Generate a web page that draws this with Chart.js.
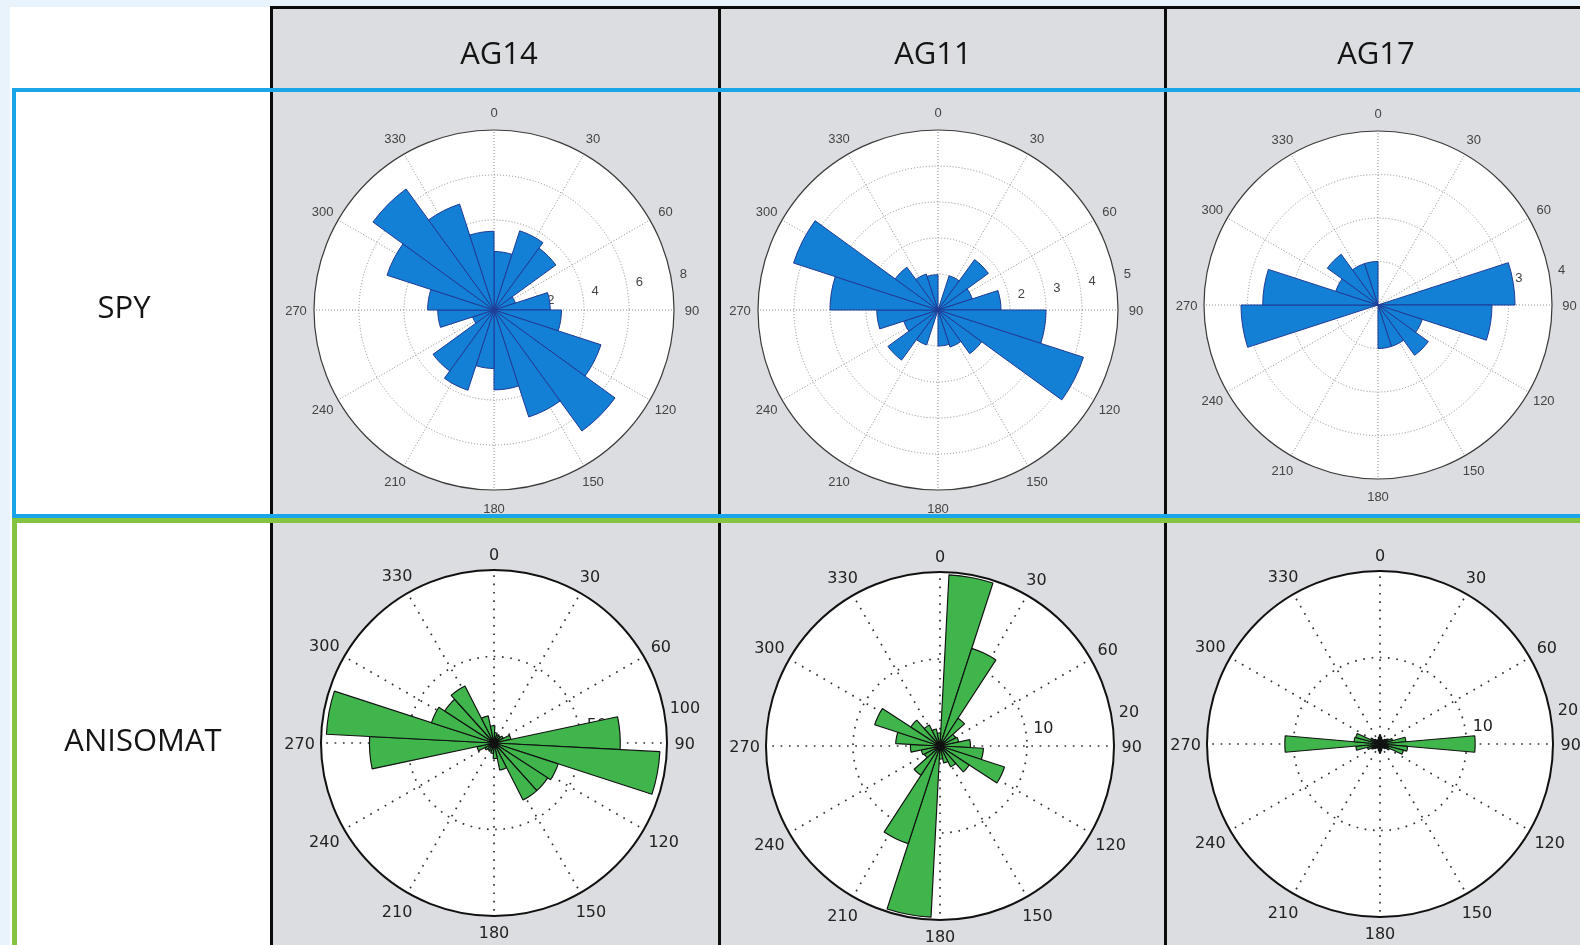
<!DOCTYPE html>
<html>
<head>
<meta charset="utf-8">
<script src="https://cdn.jsdelivr.net/npm/chart.js@4.4.0/dist/chart.umd.min.js"></script>
<style>
html,body{margin:0;padding:0;width:1580px;height:945px;overflow:hidden;background:#e8f3fb;}
#page{position:relative;width:1580px;height:945px;overflow:hidden;}
.abs{position:absolute;box-sizing:border-box;}
.txt{position:absolute;font-family:"Open Sans",sans-serif;font-size:31px;color:#141414;transform:translate(-50%,-50%);white-space:nowrap;line-height:1;}
canvas{position:absolute;}
</style>
</head>
<body>
<div id="page">
  <div class="abs" style="left:10px;top:7px;width:1570px;height:938px;background:#ffffff"></div>
  <div class="abs" style="left:271px;top:8px;width:1309px;height:937px;background:#dcdde1"></div>
  <div id="charts"></div>
  <div class="abs" style="left:270px;top:6px;width:1310px;height:3px;background:#0c0c0c"></div>
  <div class="abs" style="left:270px;top:6px;width:3px;height:939px;background:#0c0c0c"></div>
  <div class="abs" style="left:718px;top:6px;width:3px;height:939px;background:#0c0c0c"></div>
  <div class="abs" style="left:1164px;top:6px;width:3px;height:939px;background:#0c0c0c"></div>
  <div class="abs" style="left:12px;top:518px;width:1600px;height:500px;border:5px solid #84c441"></div>
  <div class="abs" style="left:12px;top:88px;width:1600px;height:430px;border:4px solid #1aa5e8"></div>
  <div id="labels"></div>
</div>
<script>
// ---------- table text ----------
const columns = ['AG14', 'AG11', 'AG17'];
const rows = ['SPY', 'ANISOMAT'];

// ---------- angular tick labels (degrees, compass: 0 at top, clockwise) ----------
const angleTicks = [0, 30, 60, 90, 120, 150, 180, 210, 240, 270, 300, 330];

// ---------- SPY rose data: 20 bins of 18 deg starting at 0 deg ----------
const spyStart = 0;
const spyAG14 = [2.6, 3.7, 3.4, 1.0, 2.5, 3.0, 5.0, 6.65, 5.0, 3.55, 2.6, 3.75, 3.35, 1.0, 2.5, 2.95, 5.0, 6.65, 4.95, 3.5];
const spyAG11 = [0, 1.0, 1.73, 1.0, 1.75, 3.0, 4.25, 1.5, 1.08, 1.0, 0, 1.02, 1.72, 1.0, 1.7, 3.0, 4.22, 1.47, 1.05, 0.98];
const spyAG17 = [0, 0, 0, 0, 3.15, 2.62, 1.07, 1.43, 1.0, 1.0, 0, 0, 0, 0, 3.15, 2.65, 1.02, 1.44, 1.0, 1.0];
const spyAG14Rings = [2, 4, 6, 8];
const spyAG14RingLabels = ['2', '4', '6', '8'];
const spyAG11Rings = [1, 2, 3, 4, 5];
const spyAG11RingLabels = ['1', '2', '3', '4', '5'];
const spyAG17Rings = [1, 2, 3, 4];
const spyAG17RingLabels = ['1', '2', '3', '4'];

// ---------- ANISOMAT rose data ----------
// AG14 and AG11: 24 bins of 15 deg starting at 3 deg
const aniStart = 3;
const aniAG14 = [6, 5, 5, 6, 10, 73, 96, 39, 37, 37, 16, 9, 6, 5, 5, 6, 10, 72, 97, 38, 34, 37, 16, 10];
const aniAG11 = [19.7, 11.8, 3.8, 2.0, 2.2, 3.5, 5.0, 7.8, 4.0, 2.7, 2.0, 1.5, 19.7, 11.8, 4.0, 2.0, 2.2, 3.4, 5.1, 7.9, 4.0, 2.7, 2.0, 1.5];
// AG17: 36 bins of 10 deg starting at 5 deg
const aniAG17Start = 5;
const aniAG17 = [0.8, 0.6, 0.5, 0.6, 0.8, 1.0, 1.5, 3.0, 11.0, 3.2, 2.8, 1.2, 0.8, 0.6, 0.5, 0.6, 0.8, 1.0,
                 0.8, 0.6, 0.5, 0.6, 0.8, 1.0, 1.5, 2.8, 11.0, 3.0, 2.9, 1.2, 0.8, 0.6, 0.5, 0.6, 0.8, 1.0];
const aniAG14Rings = [50, 100];
const aniAG14RingLabels = ['50', '100'];
const aniAG11Rings = [10, 20];
const aniAG11RingLabels = ['10', '20'];
const aniAG17Rings = [10, 20];
const aniAG17RingLabels = ['10', '20'];

// ---------- styles ----------
const spyLook = {
  fill: '#1380d6', edge: '#1f3b95', edgeW: 1.0,
  gridColor: '#8c8c8c', gridW: 1, gridDash: [1, 2],
  rimColor: '#3a3a3a', rimW: 1.2,
  font: '13px "Liberation Sans", Arial, sans-serif', fs: 13, textColor: '#444444',
  matlab: true, rAngle: 79, rOff: 13
};
const aniLook = {
  fill: '#3fb54b', edge: '#111111', edgeW: 1.15,
  gridColor: '#333333', gridW: 1.7, gridDash: [1.7, 6.6],
  rimColor: '#111111', rimW: 2,
  font: '16px "DejaVu Sans", sans-serif', fs: 16, textColor: '#222222',
  matlab: false, rAngle: 79.5, rOff: 18
};

// ---------- placement of each rose (page pixels) ----------
const PAD = 240;
const roses = [
  { cx: 494, cy: 310, R: 180, values: spyAG14, start: spyStart, rings: spyAG14Rings, ringLabels: spyAG14RingLabels, look: spyLook },
  { cx: 938, cy: 310, R: 180, values: spyAG11, start: spyStart, rings: spyAG11Rings, ringLabels: spyAG11RingLabels, look: spyLook },
  { cx: 1378, cy: 305, R: 174, values: spyAG17, start: spyStart, rings: spyAG17Rings, ringLabels: spyAG17RingLabels, look: spyLook },
  { cx: 494, cy: 743, R: 173, values: aniAG14, start: aniStart, rings: aniAG14Rings, ringLabels: aniAG14RingLabels, look: aniLook },
  { cx: 940, cy: 746, R: 174, values: aniAG11, start: aniStart, rings: aniAG11Rings, ringLabels: aniAG11RingLabels, look: aniLook },
  { cx: 1380, cy: 744, R: 173, values: aniAG17, start: aniAG17Start, rings: aniAG17Rings, ringLabels: aniAG17RingLabels, look: aniLook }
];

// ---------- text labels ----------
const labelBox = document.getElementById('labels');
const headerPos = [[499, 52], [933, 52], [1376, 52]];
const rowPos = [[124, 306], [143, 739]];
function addText(str, x, y) {
  const d = document.createElement('div');
  d.className = 'txt';
  d.style.left = x + 'px';
  d.style.top = y + 'px';
  d.textContent = str;
  labelBox.appendChild(d);
}
columns.forEach((c, i) => addText(c, headerPos[i][0], headerPos[i][1]));
rows.forEach((r, i) => addText(r, rowPos[i][0], rowPos[i][1]));

// ---------- rose plugin (grid, labels, rim) ----------
function rosePlugin(cfg) {
  const st = cfg.look;
  return {
    id: 'rose',
    beforeDatasetsDraw(chart) {
      const s = chart.scales.r, ctx = chart.ctx;
      const cx = s.xCenter, cy = s.yCenter, R = s.drawingArea;
      const pt = (deg, r) => { const t = deg * Math.PI / 180; return [cx + r * Math.sin(t), cy - r * Math.cos(t)]; };
      ctx.save();
      ctx.beginPath(); ctx.arc(cx, cy, R, 0, Math.PI * 2); ctx.fillStyle = '#ffffff'; ctx.fill();
      ctx.strokeStyle = st.gridColor; ctx.lineWidth = st.gridW; ctx.setLineDash(st.gridDash); ctx.lineCap = 'butt';
      cfg.rings.forEach(v => {
        const r = s.getDistanceFromCenterForValue(v);
        if (r < R - 0.5) { ctx.beginPath(); ctx.arc(cx, cy, r, 0, Math.PI * 2); ctx.stroke(); }
      });
      angleTicks.forEach(a => {
        const [x, y] = pt(a, R);
        ctx.beginPath(); ctx.moveTo(cx, cy); ctx.lineTo(x, y); ctx.stroke();
      });
      ctx.setLineDash([]);
      ctx.font = st.font; ctx.fillStyle = st.textColor; ctx.textAlign = 'center'; ctx.textBaseline = 'alphabetic';
      angleTicks.forEach(a => {
        const txt = String(a);
        const w = ctx.measureText(txt).width;
        const t = a * Math.PI / 180;
        const d = st.matlab ? R * 1.1 : R + 10 + Math.abs(Math.sin(t)) * w * 0.375 + Math.abs(Math.cos(t)) * 6;
        const [x, y] = pt(a, d);
        ctx.fillText(txt, x, y + st.fs * 0.36);
      });
      cfg.ringLabels.forEach((lab, i) => {
        const w = ctx.measureText(lab).width;
        const d = s.getDistanceFromCenterForValue(cfg.rings[i]) + st.rOff + (st.matlab ? 0 : (w - 20) * 0.3);
        const [x, y] = pt(st.rAngle, d);
        ctx.fillText(lab, x, y + st.fs * 0.36);
      });
      ctx.restore();
    },
    afterDatasetsDraw(chart) {
      const s = chart.scales.r, ctx = chart.ctx;
      ctx.save();
      ctx.beginPath(); ctx.arc(s.xCenter, s.yCenter, s.drawingArea, 0, Math.PI * 2);
      ctx.strokeStyle = st.rimColor; ctx.lineWidth = st.rimW; ctx.stroke();
      ctx.restore();
    }
  };
}

// ---------- build charts ----------
const holder = document.getElementById('charts');
roses.forEach((cfg, k) => {
  const cv = document.createElement('canvas');
  cv.width = PAD * 2; cv.height = PAD * 2;
  cv.style.width = (PAD * 2) + 'px'; cv.style.height = (PAD * 2) + 'px';
  cv.style.left = (cfg.cx - PAD) + 'px';
  cv.style.top = (cfg.cy - PAD) + 'px';
  holder.appendChild(cv);
  const n = cfg.values.length;
  const bw = 360 / n;
  const binLabels = cfg.values.map((_, i) => (cfg.start + i * bw) + '-' + (cfg.start + (i + 1) * bw) + '°');
  new Chart(cv, {
    type: 'polarArea',
    data: {
      labels: binLabels,
      datasets: [{
        data: cfg.values,
        backgroundColor: cfg.look.fill,
        borderColor: cfg.look.edge,
        borderWidth: cfg.look.edgeW,
        borderAlign: 'center'
      }]
    },
    options: {
      responsive: false,
      maintainAspectRatio: false,
      animation: false,
      devicePixelRatio: 1,
      layout: { padding: PAD - cfg.R },
      plugins: { legend: { display: false }, tooltip: { enabled: false } },
      scales: {
        r: {
          min: 0,
          max: cfg.rings[cfg.rings.length - 1],
          startAngle: cfg.start,
          grid: { display: false },
          angleLines: { display: false },
          pointLabels: { display: false },
          ticks: { display: false }
        }
      }
    },
    plugins: [rosePlugin(cfg)]
  });
});
</script>
</body>
</html>
